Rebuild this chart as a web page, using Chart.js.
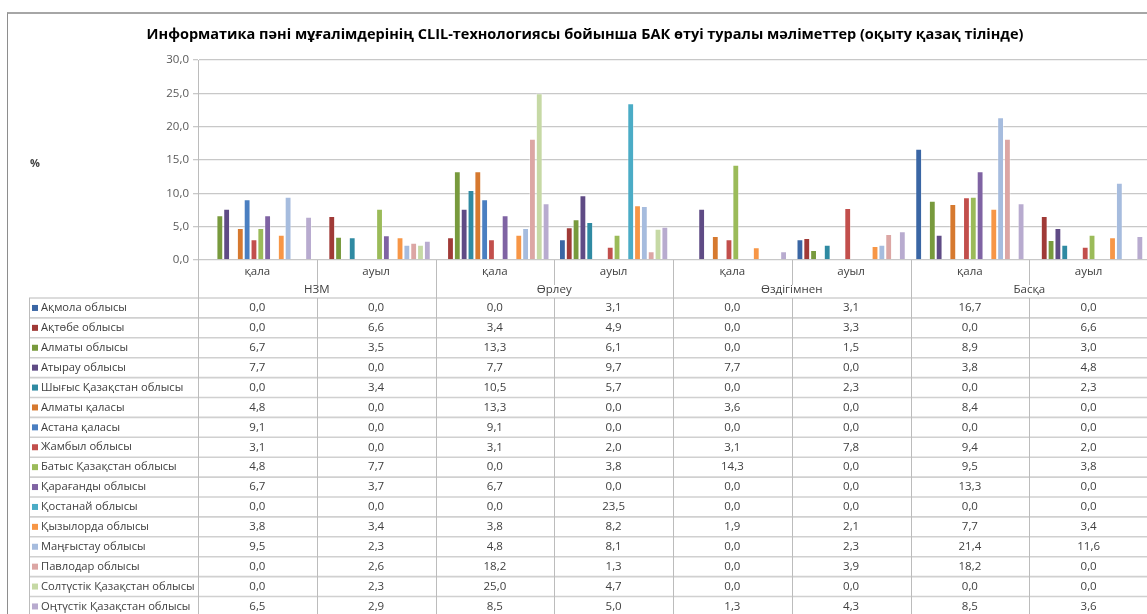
<!DOCTYPE html>
<html>
<head>
<meta charset="utf-8">
<script src="https://cdn.jsdelivr.net/npm/chart.js@4.4.0/dist/chart.umd.min.js"></script>
<style>
    html, body { margin: 0; padding: 0; background: #fff; overflow: hidden; width: 1147px; height: 614px; }
    .frame { position: absolute; left: 7px; top: 12px; width: 1180px; height: 640px; border-left: 1px solid #8e8e8e; border-top: 2px solid #a6a6a6; }
    .frame canvas { position: absolute; left: 0; top: 0; }
</style>
</head>
<body>
<div class="frame"><canvas id="chart" width="1140" height="620"></canvas></div>
<script>
const categories = ["қала", "ауыл", "қала", "ауыл", "қала", "ауыл", "қала", "ауыл"];
const groups = ["НЗМ", "Өрлеу", "Өздігімнен", "Басқа"];
const yTicks = [0, 5, 10, 15, 20, 25, 30];

const regions = [
    "Ақмола облысы", "Ақтөбе облысы", "Алматы облысы", "Атырау облысы",
    "Шығыс Қазақстан облысы", "Алматы қаласы", "Астана қаласы", "Жамбыл облысы",
    "Батыс Қазақстан облысы", "Қарағанды облысы", "Қостанай облысы", "Қызылорда облысы",
    "Маңғыстау облысы", "Павлодар облысы", "Солтүстік Қазақстан облысы", "Оңтүстік Қазақстан облысы"
];

const akmola      = [0.0, 0.0, 0.0, 3.1, 0.0, 3.1, 16.7, 0.0];
const aktobe      = [0.0, 6.6, 3.4, 4.9, 0.0, 3.3, 0.0, 6.6];
const almatyObl   = [6.7, 3.5, 13.3, 6.1, 0.0, 1.5, 8.9, 3.0];
const atyrau      = [7.7, 0.0, 7.7, 9.7, 7.7, 0.0, 3.8, 4.8];
const eastKz      = [0.0, 3.4, 10.5, 5.7, 0.0, 2.3, 0.0, 2.3];
const almatyCity  = [4.8, 0.0, 13.3, 0.0, 3.6, 0.0, 8.4, 0.0];
const astanaCity  = [9.1, 0.0, 9.1, 0.0, 0.0, 0.0, 0.0, 0.0];
const zhambyl     = [3.1, 0.0, 3.1, 2.0, 3.1, 7.8, 9.4, 2.0];
const westKz      = [4.8, 7.7, 0.0, 3.8, 14.3, 0.0, 9.5, 3.8];
const karaganda   = [6.7, 3.7, 6.7, 0.0, 0.0, 0.0, 13.3, 0.0];
const kostanay    = [0.0, 0.0, 0.0, 23.5, 0.0, 0.0, 0.0, 0.0];
const kyzylorda   = [3.8, 3.4, 3.8, 8.2, 1.9, 2.1, 7.7, 3.4];
const mangystau   = [9.5, 2.3, 4.8, 8.1, 0.0, 2.3, 21.4, 11.6];
const pavlodar    = [0.0, 2.6, 18.2, 1.3, 0.0, 3.9, 18.2, 0.0];
const northKz     = [0.0, 2.3, 25.0, 4.7, 0.0, 0.0, 0.0, 0.0];
const southKz     = [6.5, 2.9, 8.5, 5.0, 1.3, 4.3, 8.5, 3.6];

const seriesValues = [akmola, aktobe, almatyObl, atyrau, eastKz, almatyCity, astanaCity, zhambyl,
    westKz, karaganda, kostanay, kyzylorda, mangystau, pavlodar, northKz, southKz];

const colors = ["#3a66a4", "#a03a37", "#789a3d", "#5f4b85", "#2f8aa2", "#d6792f", "#4a7fc1", "#c24f4c",
    "#9bbb59", "#7f63a3", "#4bacc6", "#f79646", "#a6bcde", "#dca6a4", "#c6d9a5", "#b8abcf"];

const font = "'Open Sans', 'Liberation Sans', sans-serif";
const textColor = "#404040";

function fmt(v) {
    return v.toFixed(1).replace(".", ",");
}

const tablePlugin = {
    id: "dataTable",
    afterDraw(chart) {
        const ctx = chart.ctx;
        const xs = chart.scales.x;
        const area = chart.chartArea;
        const step = xs.getPixelForValue(1) - xs.getPixelForValue(0);
        const axisY = area.bottom;
        const tableTop = axisY + 38;
        const rowH = 19.9;
        const tableLeft = 21;
        const right = chart.width;
        const bottom = chart.height;

        ctx.save();

        // y axis title
        ctx.fillStyle = textColor;
        ctx.font = "bold 11px " + font;
        ctx.textAlign = "left";
        ctx.textBaseline = "middle";
        ctx.fillText("%", 22, 150);

        // horizontal lines of the table
        ctx.strokeStyle = "#d0d0d0";
        ctx.lineWidth = 1.6;
        for (let r = 0; r <= regions.length; r++) {
            const y = tableTop + r * rowH;
            ctx.beginPath();
            ctx.moveTo(tableLeft, y);
            ctx.lineTo(right, y);
            ctx.stroke();
        }

        // vertical lines
        ctx.strokeStyle = "#bcbcbc";
        ctx.lineWidth = 1;
        function vline(x, y1, y2) {
            x = Math.round(x) + 0.5;
            ctx.beginPath();
            ctx.moveTo(x, y1);
            ctx.lineTo(x, y2);
            ctx.stroke();
        }
        vline(tableLeft, tableTop, bottom);
        for (let i = 0; i < categories.length; i++) {
            const edge = xs.getPixelForValue(i) - step / 2;
            if (i % 2 === 0) {
                vline(edge, axisY, bottom);
            } else {
                vline(edge, axisY, axisY + 25);
                vline(edge, tableTop, bottom);
            }
        }

        // category labels
        ctx.fillStyle = textColor;
        ctx.font = "11.5px " + font;
        ctx.textAlign = "center";
        categories.forEach(function (label, i) {
            ctx.fillText(label, xs.getPixelForValue(i), axisY + 12);
        });
        groups.forEach(function (label, g) {
            const cx = (xs.getPixelForValue(g * 2) + xs.getPixelForValue(g * 2 + 1)) / 2;
            ctx.fillText(label, cx, axisY + 30);
        });

        // rows
        regions.forEach(function (name, r) {
            const cy = tableTop + r * rowH + rowH / 2;
            ctx.fillStyle = colors[r];
            ctx.fillRect(tableLeft + 3, cy - 3, 6, 6);
            ctx.fillStyle = textColor;
            ctx.textAlign = "left";
            ctx.font = "11.2px " + font;
            ctx.fillText(name, tableLeft + 12, cy);
            ctx.textAlign = "center";
            ctx.font = "11.5px " + font;
            seriesValues[r].forEach(function (v, i) {
                ctx.fillText(fmt(v), xs.getPixelForValue(i), cy);
            });
        });

        ctx.restore();
    }
};

const datasets = regions.map(function (name, i) {
    return {
        label: name,
        data: seriesValues[i],
        backgroundColor: colors[i],
        borderColor: "rgba(255,255,255,0.35)",
        borderWidth: function (c) { return c.raw ? 1 : 0; },
        borderSkipped: "bottom",
        categoryPercentage: 0.92,
        barPercentage: 1.0
    };
});

new Chart(document.getElementById("chart"), {
    type: "bar",
    data: { labels: categories, datasets: datasets },
    options: {
        responsive: false,
        animation: false,
        layout: { padding: { left: 14, right: 0, top: 0, bottom: 0 } },
        plugins: {
            legend: { display: false },
            tooltip: { enabled: false },
            title: {
                display: true,
                text: "Информатика пәні мұғалімдерінің CLIL-технологиясы бойынша БАК өтуі туралы мәліметтер (оқыту қазақ тілінде)",
                color: "#000",
                font: { family: font, size: 14.5, weight: "bold" },
                padding: { top: 12.3, bottom: 16.3 }
            }
        },
        scales: {
            x: {
                ticks: { display: false },
                grid: { display: false },
                border: { display: false },
                afterFit: function (scale) { scale.height = 374; }
            },
            y: {
                min: 0,
                max: 30,
                afterBuildTicks: function (scale) {
                    scale.ticks = yTicks.map(function (v) { return { value: v }; });
                },
                ticks: {
                    color: "#595959",
                    font: { family: font, size: 11.5 },
                    padding: 4,
                    callback: function (v) { return fmt(v); }
                },
                grid: { color: "#c8c8c8", lineWidth: 1.3, tickLength: 5 },
                border: { color: "#bcbcbc" },
                afterFit: function (scale) { scale.width = 176; }
            }
        }
    },
    plugins: [tablePlugin]
});
</script>
</body>
</html>
